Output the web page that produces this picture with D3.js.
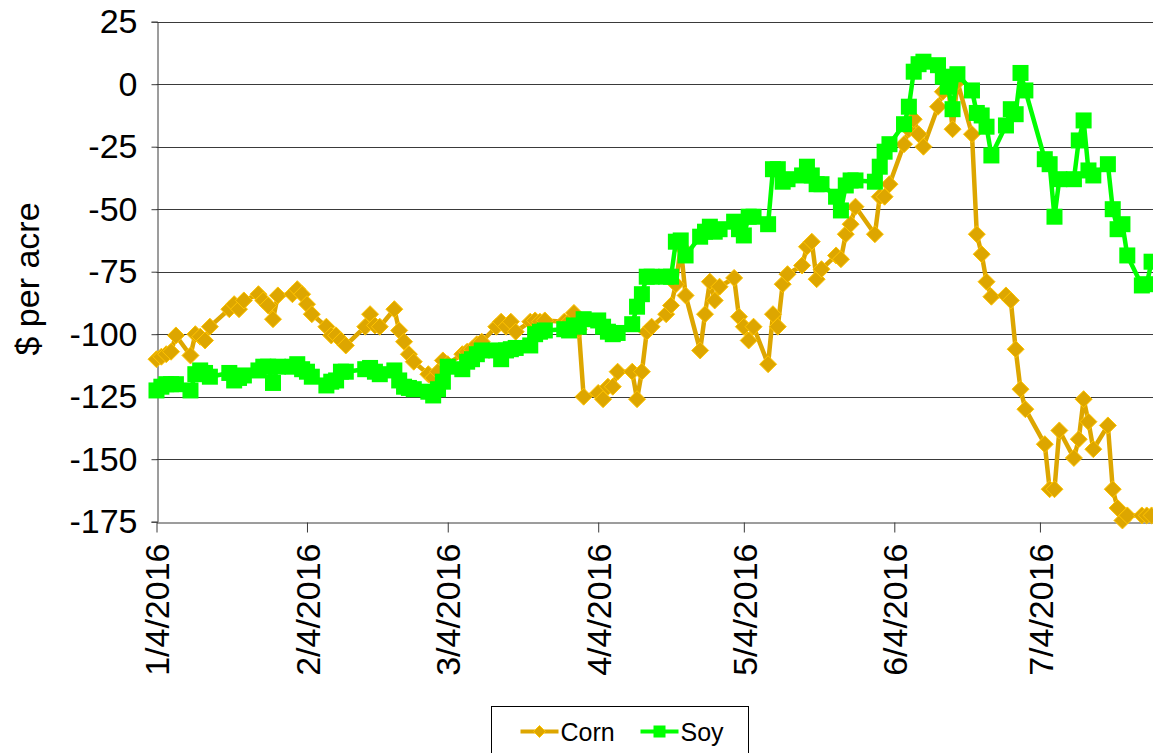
<!DOCTYPE html>
<html>
<head>
<meta charset="utf-8">
<script src="https://cdn.jsdelivr.net/npm/d3@7"></script>
<style>
  html, body { margin: 0; padding: 0; background: #fff; overflow: hidden; }
  svg { display: block; }
  text { font-family: "Liberation Sans", Arial, sans-serif; fill: #000; }
</style>
</head>
<body>
<script>
// Trading days of 2016 (month/day)
const dates = [
  "1/4","1/5","1/6","1/7","1/8","1/11","1/12","1/13","1/14","1/15","1/19","1/20","1/21","1/22","1/25","1/26","1/27","1/28","1/29",
  "2/1","2/2","2/3","2/4","2/5","2/8","2/9","2/10","2/11","2/12","2/16","2/17","2/18","2/19","2/22","2/23","2/24","2/25","2/26","2/29",
  "3/1","3/2","3/3","3/4","3/7","3/8","3/9","3/10","3/11","3/14","3/15","3/16","3/17","3/18","3/21","3/22","3/23","3/24","3/28","3/29","3/30","3/31",
  "4/1","4/4","4/5","4/6","4/7","4/8","4/11","4/12","4/13","4/14","4/15","4/18","4/19","4/20","4/21","4/22","4/25","4/26","4/27","4/28","4/29",
  "5/2","5/3","5/4","5/5","5/6","5/9","5/10","5/11","5/12","5/13","5/16","5/17","5/18","5/19","5/20","5/23","5/24","5/25","5/26","5/27","5/31",
  "6/1","6/2","6/3","6/6","6/7","6/8","6/9","6/10","6/13","6/14","6/15","6/16","6/17","6/20","6/21","6/22","6/23","6/24","6/27","6/28","6/29","6/30",
  "7/1","7/5","7/6","7/7","7/8","7/11","7/12","7/13","7/14","7/15","7/18","7/19","7/20","7/21","7/22","7/25","7/26","7/27"
];

// Corn, $ per acre
const corn = [
  -110,-109,-108,-107,-100.5,-108.5,-100,-101,-102.5,-97,-90,-88,-90,-86.5,-84,-86.5,-88.5,-94,-84.5,
  -84,-82,-84,-88,-92,-97,-100.5,-100.5,-102.5,-104.5,-97,-92,-96.5,-97,-90,-98.5,-103,-108,-111,-116,
  -117.5,-115,-110.5,-112,-108,-107,-106,-104,-103,-97,-95,-97,-95,-99,-95,-94.5,-95,-94.5,-95,-95,-91.5,-98,
  -125,-123.5,-126,-121,-121,-115,-115,-126,-115,-99,-97,-92,-88.5,-80,-65,-84.5,-106.5,-92,-79,-86.5,-81,
  -77.5,-93,-97,-102.5,-97,-112,-92,-97,-80,-76,-72.5,-65,-63,-78,-74,-68.5,-70,-60,-56,-49,-60,
  -45,-45,-40,-24,-18,-14,-20,-25,-9,-3,2,-18,1,-20,-60,-68,-79,-85,-84.5,-86.5,-106,-122,
  -130,-144,-162,-162,-138.5,-149.5,-142,-126,-135,-146,-136.5,-162,-169.5,-174.5,-172.5,-172.5,-172.5,-172.5
];

// Soy, $ per acre
const soy = [
  -122.5,-121,-120,-120,-120,-122.5,-116,-114.5,-115.5,-117,-115.5,-118.5,-117.5,-116.5,-114.5,-113,-113,-119.5,-113,
  -113,-112,-114,-115,-117,-120.5,-119,-118.5,-115,-115,-114,-113.5,-115,-116,-114.5,-118.5,-121,-121.5,-122,-123,
  -124.5,-122,-119,-113,-114,-111,-110,-108,-106.5,-106.5,-110,-106.5,-106,-105.5,-104.5,-100,-99,-98.5,-98,-98.5,-96.5,-97,
  -94,-94.5,-97,-99,-100,-99.5,-96,-89,-84,-77,-77,-77,-77,-63,-62.5,-68.5,-61,-59,-57,-59,-58,
  -55,-58,-60.5,-53,-53,-56,-34,-34,-39,-38,-36.5,-33,-36.5,-40,-40,-45,-50.5,-40.5,-38.5,-38.5,-39,
  -33,-27,-24,-16,-9,5,8,9,7.6,3,-1,-10,4,-2.5,-11.5,-12.5,-17,-28.5,-16.5,-10,-12,4.5,
  -2.5,-30,-32,-53,-38,-38,-22.5,-14.5,-34.5,-36.5,-32,-50,-58,-56,-68.5,-80.5,-80,-71
];

const yTicks = [25, 0, -25, -50, -75, -100, -125, -150, -175];
const xTicks = ["1/4", "2/4", "3/4", "4/4", "5/4", "6/4", "7/4"];
const seriesNames = ["Corn", "Soy"];

const W = 1153, H = 753;
const parse = s => d3.timeParse("%m/%d/%Y")(s + "/2016");

const plotLeft = 156.5, plotTop = 21.7, plotBottom = 521.7;
const pxPerDay = 4.854;
const xStart = parse("1/4"), xEnd = parse("7/31");
const x = d3.scaleTime()
  .domain([xStart, xEnd])
  .range([plotLeft, plotLeft + d3.timeDay.count(xStart, xEnd) * pxPerDay]);
const y = d3.scaleLinear().domain([-175, 25]).range([plotBottom, plotTop]);

const svg = d3.select("body").append("svg").attr("width", W).attr("height", H);

// horizontal gridlines
svg.append("g").selectAll("line")
  .data(yTicks.filter(v => v !== -175))
  .join("line")
  .attr("x1", plotLeft).attr("x2", x.range()[1])
  .attr("y1", d => Math.round(y(d)) + 0.5).attr("y2", d => Math.round(y(d)) + 0.5)
  .attr("stroke", "#3a3a3a").attr("stroke-width", 1);

// y axis (plain hyphen for negative labels)
const yAxis = svg.append("g")
  .attr("transform", `translate(${Math.round(plotLeft) + 0.5},0)`)
  .call(d3.axisLeft(y).tickValues(yTicks).tickSize(6).tickPadding(14).tickFormat(d => String(d)));
yAxis.select(".domain").attr("stroke", "#3a3a3a");
yAxis.selectAll(".tick line").attr("stroke", "#3a3a3a");
yAxis.selectAll("text").style("font-size", "34px").attr("fill", "#000");

// x axis
const fmt = d3.timeFormat("%-m/%-d/%Y");
const xAxis = svg.append("g")
  .attr("transform", `translate(0,${Math.round(plotBottom) + 0.5})`)
  .call(d3.axisBottom(x).tickValues(xTicks.map(parse)).tickSize(10).tickSizeOuter(0).tickFormat(fmt));
xAxis.select(".domain").attr("stroke", "#3a3a3a");
xAxis.selectAll(".tick line").attr("stroke", "#3a3a3a");
xAxis.selectAll("text")
  .style("font-size", "34px").attr("fill", "#000")
  .attr("text-anchor", "end")
  .attr("transform", "rotate(-90)")
  .attr("x", -21).attr("y", 0).attr("dy", "0.36em");

// y axis title
svg.append("text")
  .attr("transform", "translate(27,279) rotate(-90)")
  .attr("text-anchor", "middle").attr("dy", "0.36em")
  .style("font-size", "34px")
  .text("$ per acre");

const pts = vals => dates.map((d, i) => ({ date: parse(d), v: vals[i] }));
const cornPts = pts(corn), soyPts = pts(soy);
const line = d3.line().x(d => x(d.date)).y(d => y(d.v));

const cornColor = "#DDA600", cornEdge = "#FFC400", soyColor = "#00FF00";
const diamond = "M0,-8.5L8.5,0L0,8.5L-8.5,0Z";
const sq = 16;

const plot = svg.append("g");
// Corn
plot.append("path").datum(cornPts).attr("d", line)
  .attr("fill", "none").attr("stroke", cornColor).attr("stroke-width", 4.5).attr("stroke-linejoin", "round");
plot.append("g").selectAll("path").data(cornPts).join("path")
  .attr("d", diamond)
  .attr("transform", d => `translate(${x(d.date)},${y(d.v)})`)
  .attr("fill", cornColor).attr("stroke", cornEdge).attr("stroke-width", 1);
// Soy
plot.append("path").datum(soyPts).attr("d", line)
  .attr("fill", "none").attr("stroke", soyColor).attr("stroke-width", 4.5).attr("stroke-linejoin", "round");
plot.append("g").selectAll("rect").data(soyPts).join("rect")
  .attr("x", d => x(d.date) - sq / 2).attr("y", d => y(d.v) - sq / 2)
  .attr("width", sq).attr("height", sq)
  .attr("fill", soyColor);

// legend
const lg = svg.append("g").attr("transform", "translate(491.5,706.5)");
lg.append("rect").attr("width", 257).attr("height", 70)
  .attr("fill", "#fff").attr("stroke", "#000").attr("stroke-width", 1);
const items = [
  { name: seriesNames[0], x0: 29, color: cornColor, mark: "diamond" },
  { name: seriesNames[1], x0: 149, color: soyColor, mark: "square" }
];
items.forEach(it => {
  const g = lg.append("g").attr("transform", `translate(${it.x0},25)`);
  g.append("line").attr("x1", 0).attr("x2", 38).attr("stroke", it.color).attr("stroke-width", 4);
  if (it.mark === "diamond") {
    g.append("path").attr("d", "M0,-6L6,0L0,6L-6,0Z").attr("transform", "translate(19,0)")
      .attr("fill", cornColor).attr("stroke", cornEdge);
  } else {
    g.append("rect").attr("x", 13).attr("y", -6).attr("width", 12).attr("height", 12).attr("fill", soyColor);
  }
  g.append("text").attr("x", 40).attr("dy", "0.36em").style("font-size", "25px").text(it.name);
});
</script>
</body>
</html>
